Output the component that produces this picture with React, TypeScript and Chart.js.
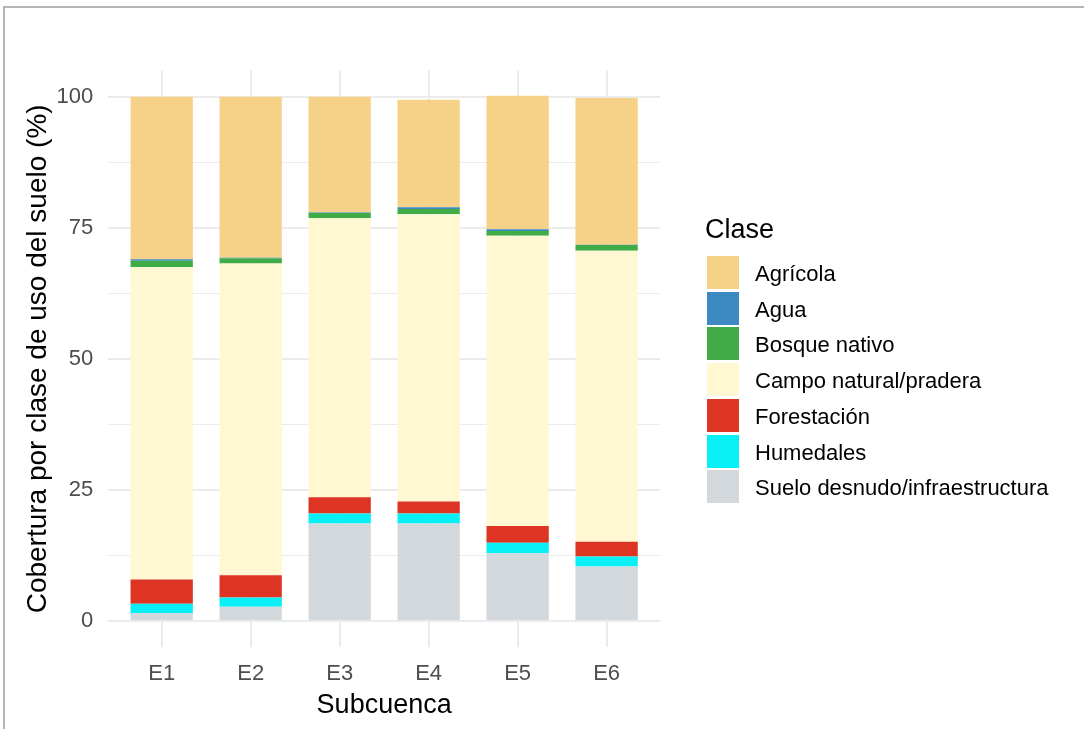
import React, { useEffect, useRef } from "react";
import { Chart, registerables } from "chart.js";

Chart.register(...registerables);

const categories = ["E1", "E2", "E3", "E4", "E5", "E6"];

// Stacked from bottom to top
const sueloDesnudo = [1.5, 2.7, 18.6, 18.6, 12.9, 10.4];
const humedales = [1.8, 1.8, 1.9, 1.9, 2.0, 1.9];
const forestacion = [4.6, 4.2, 3.1, 2.3, 3.2, 2.8];
const campoNatural = [59.6, 59.5, 53.2, 54.8, 55.4, 55.5];
const bosqueNativo = [1.2, 1.0, 1.0, 1.0, 0.9, 1.1];
const agua = [0.3, 0.1, 0.1, 0.3, 0.3, 0.05];
const agricola = [31.0, 30.7, 22.1, 20.5, 25.5, 28.0];

const yTicks = [0, 12.5, 25, 37.5, 50, 62.5, 75, 87.5, 100];

const FONT = "'Liberation Sans', Arial, sans-serif";

const seriesDefs = [
  { label: "Suelo desnudo/infraestructura", data: sueloDesnudo, color: "#D3D8DC" },
  { label: "Humedales", data: humedales, color: "#08F0F5" },
  { label: "Forestación", data: forestacion, color: "#DD3424" },
  { label: "Campo natural/pradera", data: campoNatural, color: "#FFF8D2" },
  { label: "Bosque nativo", data: bosqueNativo, color: "#41AB47" },
  { label: "Agua", data: agua, color: "#3D8AC2" },
  { label: "Agrícola", data: agricola, color: "#F5D287" },
];

const legendOrder = [...seriesDefs].reverse();

export default function App() {
  const canvasRef = useRef<HTMLCanvasElement | null>(null);

  useEffect(() => {
    document.body.style.margin = "0";
    const canvas = canvasRef.current;
    if (!canvas) return;
    const chart = new Chart(canvas, {
      type: "bar",
      data: {
        datasets: seriesDefs.map((s) => ({
          label: s.label,
          data: s.data.map((v, i) => ({ x: i + 1, y: v })),
          backgroundColor: s.color,
          borderWidth: 0,
          barPercentage: 0.7,
          categoryPercentage: 1,
        })),
      },
      options: {
        animation: false,
        responsive: false,
        maintainAspectRatio: false,
        layout: { padding: { left: 21.5, right: 424, top: 70.5, bottom: 7.5 } },
        plugins: {
          legend: { display: false },
          tooltip: { enabled: false },
        },
        scales: {
          x: {
            type: "linear",
            stacked: true,
            min: 0.4,
            max: 6.6,
            offset: false,
            afterBuildTicks: (scale: any) => {
              scale.ticks = categories.map((_, i) => ({ value: i + 1 }));
            },
            ticks: {
              autoSkip: false,
              maxRotation: 0,
              padding: 13.5,
              color: "#4D4D4D",
              font: { family: FONT, size: 22 },
              callback: (v: any) => categories[Number(v) - 1] ?? "",
            },
            grid: {
              offset: false,
              color: "#EBEBEB",
              lineWidth: 2,
              drawTicks: false,
            },
            border: { display: false },
            title: {
              display: true,
              text: "Subcuenca",
              color: "#000000",
              font: { family: FONT, size: 27 },
              padding: { top: -11.5, bottom: 0 },
            },
          },
          y: {
            type: "linear",
            stacked: true,
            min: -5,
            max: 105,
            afterBuildTicks: (scale: any) => {
              scale.ticks = yTicks.map((v) => ({ value: v }));
            },
            ticks: {
              padding: 15,
              color: "#4D4D4D",
              font: { family: FONT, size: 22 },
              callback: (v: any) => (Number(v) % 25 === 0 ? String(v) : ""),
            },
            grid: {
              color: "#EBEBEB",
              lineWidth: (ctx: any) => (ctx.tick && ctx.tick.value % 25 === 0 ? 2 : 1),
              drawTicks: false,
            },
            border: { display: false },
            title: {
              display: true,
              text: "Cobertura por clase de uso del suelo (%)",
              color: "#000000",
              font: { family: FONT, size: 28 },
              padding: { top: 0, bottom: -13.5 },
            },
          },
        },
      },
    });
    return () => chart.destroy();
  }, []);

  return (
    <div style={{ position: "absolute", left: 0, top: 0, width: 1084, height: 729, background: "#FFFFFF", overflow: "hidden" }}>
      <div
        style={{
          position: "absolute",
          left: 3,
          top: 6,
          width: 1084,
          height: 729,
          borderTop: "2px solid #B5B5B5",
          borderLeft: "2px solid #B5B5B5",
          boxSizing: "border-box",
        }}
      />
      <canvas ref={canvasRef} width={1084} height={729} style={{ position: "absolute", left: 0, top: 0 }} />
      <div
        style={{
          position: "absolute",
          left: 705,
          top: 212,
          fontFamily: FONT,
          fontSize: 27,
          lineHeight: "34px",
          color: "#000000",
        }}
      >
        Clase
      </div>
      {legendOrder.map((s, i) => (
        <div key={s.label}>
          <div
            style={{
              position: "absolute",
              left: 707,
              top: 256 + i * 35.7,
              width: 32,
              height: 33,
              background: s.color,
            }}
          />
          <div
            style={{
              position: "absolute",
              left: 755,
              top: 257 + i * 35.7,
              height: 33,
              lineHeight: "33px",
              fontFamily: FONT,
              fontSize: 22,
              color: "#000000",
              whiteSpace: "nowrap",
            }}
          >
            {s.label}
          </div>
        </div>
      ))}
    </div>
  );
}
